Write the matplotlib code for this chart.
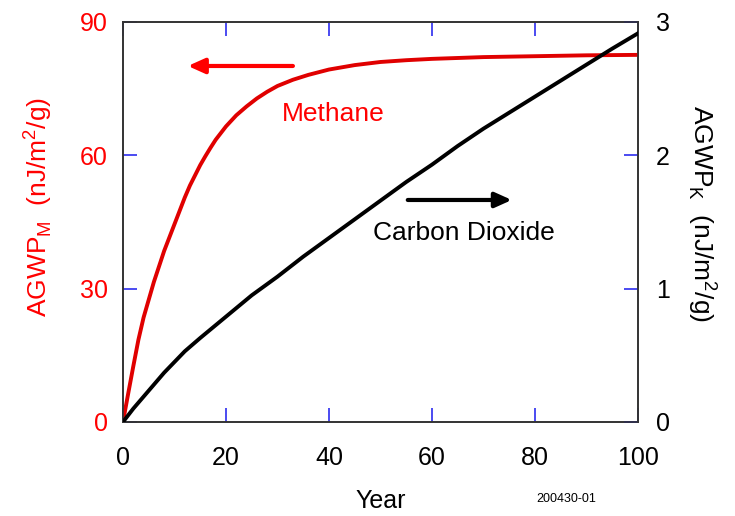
import matplotlib.pyplot as plt
import numpy as np

plt.rcParams['font.family'] = ['Liberation Sans', 'DejaVu Sans']

# Methane (left axis, nJ/m^2/g)
years_ch4 = [0, 1, 2, 3, 4, 5, 6, 7, 8, 9, 10, 11, 12, 13, 14, 15, 16, 17,
             18, 19, 20, 22, 24, 26, 28, 30, 33, 36, 40, 45, 50, 55, 60, 65,
             70, 80, 90, 100]
agwp_ch4 = [0, 6.3, 12.5, 18.5, 23.5, 27.5, 31.5, 35, 38.5, 41.5, 44.5, 47.5,
            50.5, 53.2, 55.5, 57.8, 59.8, 61.7, 63.5, 65, 66.5, 69, 71, 72.8,
            74.3, 75.6, 77, 78.1, 79.3, 80.3, 81.0, 81.4, 81.7, 81.9, 82.1,
            82.3, 82.5, 82.6]

# Carbon dioxide (right axis, nJ/m^2/g)
years_co2 = [0, 2, 4, 6, 8, 10, 12, 15, 20, 25, 30, 35, 40, 45, 50, 55, 60,
             65, 70, 75, 80, 85, 90, 95, 100]
agwp_co2 = [0, 0.1, 0.19, 0.28, 0.37, 0.45, 0.53, 0.63, 0.79, 0.95, 1.09,
            1.24, 1.38, 1.52, 1.66, 1.8, 1.93, 2.07, 2.2, 2.32, 2.44, 2.56,
            2.68, 2.8, 2.915]

fig = plt.figure(figsize=(7.35, 5.16), dpi=100)
ax = fig.add_axes([0.1673, 0.1822, 0.7007, 0.7752])
ax2 = ax.twinx()

red = '#ff0000'
tick_blue = '#1a1aee'

ax.plot(years_ch4, agwp_ch4, color='#e00000', lw=2.8, zorder=3)
ax2.plot(years_co2, agwp_co2, color='black', lw=2.8, zorder=3)

ax.set_xlim(0, 100)
ax.set_ylim(0, 90)
ax2.set_ylim(0, 3)
ax.set_xticks([0, 20, 40, 60, 80, 100])
ax.set_yticks([0, 30, 60, 90])
ax2.set_yticks([0, 1, 2, 3])

for a in (ax, ax2):
    for s in a.spines.values():
        s.set_color('#333333')
        s.set_linewidth(1.2)

ax.tick_params(axis='x', direction='in', length=10, width=1.1, color=tick_blue,
               top=True, labelsize=18, pad=17, labelcolor='black')
ax.tick_params(axis='y', direction='in', length=10, width=1.1, color=tick_blue,
               labelsize=18, pad=11, labelcolor=red)
ax2.tick_params(axis='y', direction='in', length=10, width=1.1, color=tick_blue,
                labelsize=18, pad=13, labelcolor='black')

ax.set_xlabel('Year', fontsize=18, labelpad=14)
ax.set_ylabel(r'AGWP$_{\mathregular{M}}$  (nJ/m$^{\mathregular{2}}$/g)', color=red,
              fontsize=19, va='center')
ax.yaxis.set_label_coords(-0.165, 0.5375)
ax2.set_ylabel(r'AGWP$_{\mathregular{K}}$  (nJ/m$^{\mathregular{2}}$/g)', color='black',
               fontsize=19, rotation=270, va='center')
ax2.yaxis.set_label_coords(1.126, 0.52)

# annotations
ax.annotate('', xy=(12.6, 80.1), xytext=(33, 80.1),
            arrowprops=dict(arrowstyle='-|>,head_length=1.0,head_width=0.45',
                            color=red, lw=3, shrinkA=0, shrinkB=0))
ax.text(30.9, 69.3, 'Methane', color=red, fontsize=19, va='center', ha='left')

ax2.annotate('', xy=(75.5, 1.665), xytext=(55.3, 1.665),
             arrowprops=dict(arrowstyle='-|>,head_length=1.0,head_width=0.45',
                             color='black', lw=3, shrinkA=0, shrinkB=0))
ax2.text(48.5, 1.42, 'Carbon Dioxide', color='black', fontsize=19,
         va='center', ha='left')

fig.text(0.77, 0.028, '200430-01', fontsize=9, ha='center')

plt.savefig('out.png', dpi=100)
